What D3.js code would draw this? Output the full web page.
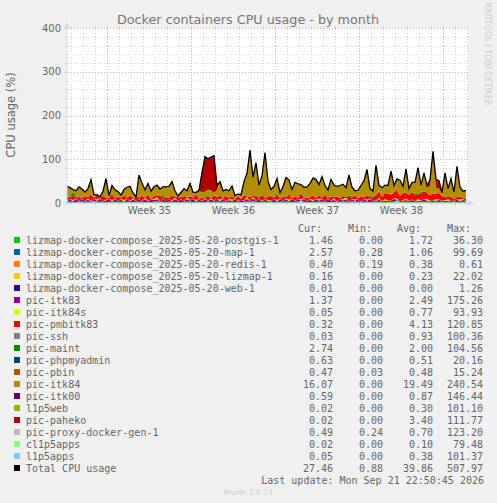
<!DOCTYPE html>
<html>
<head>
<meta charset="utf-8">
<script src="https://cdn.jsdelivr.net/npm/d3@7"></script>
<style>
  html, body { margin: 0; padding: 0; background: #f0f0f0; }
  svg { display: block; }
</style>
</head>
<body>
<div id="container"></div>
<script>
/* DATA, one value per 6 hours */
const startTime = new Date(Date.UTC(2026, 7, 20, 16))
const endTime = new Date(Date.UTC(2026, 8, 23, 2))
const sampleCount = 134

const postgis = [2,1,2,1,1,2,3,2,1,1,2,1,2,1,1,2,2,1,3,1,2,1,1,2,1,2,2,1,1,3,2,1,2,1,
  1,2,1,1,2,2,1,3,1,1,2,1,2,1,1,2,3,1,1,2,1,2,1,2,1,1,2,2,1,3,1,2,1,1,
  2,1,1,2,1,3,2,1,1,2,2,1,1,2,1,1,3,2,1,1,2,1,1,2,3,1,1,2,1,2,1,1,2,1,
  1,2,2,1,1,3,2,1,2,1,1,2,3,1,1,2,1,2,1,1,2,3,1,2,1,1,2,1,2,1,3,2]
const map = [1,2,1,1,2,1,0,1,2,1,1,2,1,1,2,1,1,2,0,1,1,2,1,1,2,1,0,2,1,1,1,2,1,1,
  2,1,1,2,0,1,2,1,1,2,1,1,0,2,1,1,2,1,2,1,0,1,1,2,1,2,1,1,2,0,1,1,2,1,
  1,1,2,1,2,0,1,1,2,1,1,2,1,0,2,1,1,1,2,1,1,2,0,1,1,2,1,1,2,1,0,2,1,1,
  2,1,1,2,1,0,1,2,1,1,2,1,0,1,2,1,2,1,1,2,0,1,1,2,1,2,1,1,0,1,2,1]
const itk83 = [1,6,1,7,2,6,2,5,1,6,2,7,1,4,7,1,6,2,5,1,7,1,6,2,6,1,7,1,6,3,5,1,6,2,
  6,1,7,2,6,1,6,2,7,1,6,2,7,1,6,2,5,2,7,1,6,2,6,1,5,2,6,1,7,2,6,1,6,2,
  1,7,1,6,2,6,1,7,2,6,1,7,2,6,1,7,2,6,1,7,2,5,1,7,2,6,1,5,2,7,1,6,2,7,
  3,2,5,1,4,2,3,6,2,1,3,4,2,5,1,3,2,6,3,1,4,2,5,1,3,2,4,1,6,2,3,1]
const itk84s = [1,0,3,1,0,1,0,3,1,0,4,1,0,2,0,3,1,0,1,4,0,1,3,0,1,0,3,1,0,2,4,0,1,0,
  0,2,3,0,1,0,4,1,0,3,0,1,2,0,3,1,0,4,1,0,2,3,0,1,0,1,4,0,3,1,0,2,0,3,
  1,0,3,1,0,2,4,0,1,0,3,1,0,2,3,0,4,1,0,1,0,3,1,0,2,4,0,1,3,0,1,0,3,1,
  0,1,4,0,3,1,0,2,3,0,1,4,0,1,0,3,1,0,4,1,0,3,1,0,2,3,0,1,0,4,1,0]
const pmbitk83 = [10,3,12,2,8,1,11,3,14,2,9,1,12,4,2,13,1,9,3,11,2,12,1,8,3,10,1,13,2,7,3,12,1,9,
  3,11,1,9,2,12,1,8,3,13,1,7,2,10,1,11,3,9,1,12,2,8,1,10,3,12,1,9,2,11,1,13,2,8,
  11,2,13,1,9,3,12,1,10,2,14,1,8,3,11,1,9,2,13,1,10,3,12,1,8,2,11,3,9,1,12,2,10,1,
  8,12,15,10,14,16,12,15,18,13,16,12,14,17,13,11,15,18,14,12,16,13,15,11,7,5,8,4,6,7,3,6]
const itk84 = [23,21,5,13,23,21,7,19,31,7,1,1,11,41,5,17,19,10,4,13,23,21,9,1,49,28,17,23,17,21,25,16,21,24,
  23,32,13,2,10,17,13,27,13,2,17,13,13,13,17,6,17,32,13,15,17,21,8,1,7,31,53,108,43,75,28,43,101,35,
  13,25,33,11,23,41,33,21,27,33,19,21,25,31,39,41,21,48,19,19,36,27,21,29,27,17,47,23,11,15,23,38,59,17,
  13,68,11,21,16,18,52,14,26,36,12,54,14,20,26,58,16,42,12,22,84,12,10,2,55,17,41,13,70,19,15,19]

// thin series: [sample index, value] pairs, everything else is zero
const redisPts = [[4,1],[30,1],[62,1],[95,1],[120,1]]
const lizmapPts = [[9,2],[47,1],[78,2],[110,3]]
const webPts = [[60,1]]
const sshPts = [[6,2],[22,2],[41,3],[58,2],[73,3],[90,2],[104,3],[125,2]]
const maintPts = [[1,2],[2,7],[3,3],[15,3],[27,4],[32,5],[38,3],[47,3],[64,4],[70,3],[79,3],[86,4],[94,3],[101,5],[116,4],[118,4]]
const phpmyadminPts = [[11,1],[36,2],[69,2],[99,2],[113,1]]
const pbinPts = [[8,3],[17,2],[25,3],[43,2],[52,3],[68,2],[83,3],[98,2],[108,3],[127,3]]
const itk00Pts = [[18,2],[44,2],[71,2],[93,3],[122,2]]
const l1p5webPts = [[13,3],[34,3],[66,3],[88,3],[112,3],[131,2]]
const pahekoPts = [[45,45],[46,80],[47,70],[48,76],[49,85],[50,10],[120,4],[121,14],[122,10],[123,20],[124,18],[125,4]]
const proxyPts = [[24,2],[57,3],[76,4],[97,3],[117,3],[129,4]]
const cl1p5appsPts = [[40,1],[81,1],[106,2]]
const l1p5appsPts = [[20,1],[55,2],[84,2],[115,2]]

const names = ["lizmap-docker-compose_2025-05-20-postgis-1", "lizmap-docker-compose_2025-05-20-map-1",
  "lizmap-docker-compose_2025-05-20-redis-1", "lizmap-docker-compose_2025-05-20-lizmap-1",
  "lizmap-docker-compose_2025-05-20-web-1", "pic-itk83", "pic-itk84s", "pic-pmbitk83", "pic-ssh", "pic-maint",
  "pic-phpmyadmin", "pic-pbin", "pic-itk84", "pic-itk00", "l1p5web", "pic-paheko", "pic-proxy-docker-gen-1",
  "cl1p5apps", "l1p5apps", "Total CPU usage"]
const colors = ["#00CC00", "#0066B3", "#FF8000", "#FFCC00", "#330099", "#990099", "#CCFF00", "#FF0000", "#808080",
  "#008F00", "#00487D", "#B35A00", "#B38F00", "#6B006B", "#8FB300", "#B30000", "#BEBEBE", "#80FF80", "#80C9FF", "#000000"]
const cur = ["1.46","2.57","0.40","0.16","0.01","1.37","0.05","0.32","0.03","2.74","0.63","0.47","16.07","0.59","0.02","0.02","0.49","0.02","0.05","27.46"]
const min = ["0.00","0.28","0.19","0.00","0.00","0.00","0.00","0.00","0.00","0.00","0.00","0.03","0.00","0.00","0.00","0.00","0.24","0.00","0.00","0.88"]
const avg = ["1.72","1.06","0.38","0.23","0.00","2.49","0.77","4.13","0.93","2.00","0.51","0.48","19.49","0.87","0.30","3.40","0.70","0.10","0.38","39.86"]
const max = ["36.30","99.69","0.61","22.02","1.26","175.26","93.93","120.85","100.36","104.56","20.16","15.24","240.54","146.44","101.10","111.77","123.20","79.48","101.37","507.97"]
const weekLabels = ["Week 35", "Week 36", "Week 37", "Week 38"]
const yTicks = [0, 100, 200, 300, 400]

/* CONSTANTS AND GLOBALS */
const width = 497,
      height = 503,
      margin = {top : 28, bottom : 300, left : 67, right : 29};
const plotW = width - margin.left - margin.right,
      plotH = height - margin.top - margin.bottom;
const textColor = "#666",
      mono = "'DejaVu Sans Mono', monospace",
      sans = "'DejaVu Sans', sans-serif";

const sparse = pts => {
  const out = new Array(sampleCount).fill(0)
  pts.forEach(p => { out[p[0]] = p[1] })
  return out
}

const seriesValues = [postgis, map, sparse(redisPts), sparse(lizmapPts), sparse(webPts), itk83, itk84s, pmbitk83,
  sparse(sshPts), sparse(maintPts), sparse(phpmyadminPts), sparse(pbinPts), itk84, sparse(itk00Pts),
  sparse(l1p5webPts), sparse(pahekoPts), sparse(proxyPts), sparse(cl1p5appsPts), sparse(l1p5appsPts)]

const rows = d3.range(sampleCount).map(i => {
  const row = {time: d3.utcHour.offset(startTime, i * 6)}
  seriesValues.forEach((s, k) => { row[k] = s[i] })
  return row
})

/* SCALES */
const xScale = d3.scaleUtc()
                 .domain([startTime, endTime])
                 .range([margin.left, width - margin.right])

const yScale = d3.scaleLinear()
                 .domain([0, 400])
                 .range([margin.top + plotH, margin.top])

const stacked = d3.stack().keys(d3.range(seriesValues.length))(rows)

/* HTML ELEMENTS */
const svg = d3.select("#container")
              .append("svg")
              .attr("width", width)
              .attr("height", height)

svg.append("rect")
   .attr("x", margin.left)
   .attr("y", margin.top)
   .attr("width", plotW)
   .attr("height", plotH)
   .attr("fill", "#fff")

//grid, built from axes
const days = d3.utcDay.range(startTime, endTime)
const mondays = d3.utcMonday.range(startTime, endTime)

const grid = (axis, y, cls) => svg.append("g")
   .attr("transform", y)
   .call(axis)
   .call(g => g.select(".domain").remove())
   .call(g => g.selectAll("text").remove())
   .call(g => g.selectAll("line")
               .attr("stroke", cls)
               .attr("stroke-dasharray", "1,2")
               .attr("shape-rendering", "crispEdges"))

grid(d3.axisBottom(xScale).tickValues(days.filter(d => d.getUTCDay() != 1)).tickSize(-(plotH + 4)),
     `translate(0, ${margin.top + plotH + 2})`, "#d0d0d0")
grid(d3.axisLeft(yScale).tickValues(d3.range(0, 401, 20).filter(d => d % 100)).tickSize(-(plotW + 4)),
     `translate(${margin.left - 2}, 0)`, "#d0d0d0")
grid(d3.axisBottom(xScale).tickValues(mondays).tickSize(-(plotH + 4)),
     `translate(0, ${margin.top + plotH + 2})`, "#e8a4a4")
grid(d3.axisLeft(yScale).tickValues(yTicks).tickSize(-(plotW + 4)),
     `translate(${margin.left - 2}, 0)`, "#e8a4a4")

//stacked areas
const area = d3.area()
               .x(d => xScale(d.data.time))
               .y0(d => yScale(d[0]))
               .y1(d => yScale(d[1]))

svg.selectAll("path.layer")
   .data(stacked)
   .join("path")
   .attr("class", "layer")
   .attr("fill", (d, i) => colors[i])
   .attr("d", area)

//total is the top of the stack
const topLayer = stacked[stacked.length - 1]
const totalLine = d3.line()
                    .x(d => xScale(d.data.time))
                    .y(d => yScale(d[1]))

svg.append("path")
   .datum(topLayer)
   .attr("fill", "none")
   .attr("stroke", "#000")
   .attr("stroke-width", 1.3)
   .attr("d", totalLine)

//axis lines with the little arrows
const axisColor = "#d4dcf8"
svg.append("path")
   .attr("d", `M${margin.left},${yScale(0) + 2}V${margin.top - 2}M${margin.left - 2},${yScale(0)}H${width - margin.right + 1}`)
   .attr("stroke", axisColor)
   .attr("fill", "none")
svg.append("path")
   .attr("d", `M${margin.left - 3},${margin.top}L${margin.left},${margin.top - 6}L${margin.left + 3},${margin.top}Z`)
   .attr("fill", axisColor)
svg.append("path")
   .attr("d", `M${width - margin.right},${yScale(0) - 3}L${width - margin.right + 6},${yScale(0)}L${width - margin.right},${yScale(0) + 3}Z`)
   .attr("fill", axisColor)

//tick labels
const xAxis = d3.axisBottom(xScale)
                .tickValues(mondays.map(d => d3.utcHour.offset(d, 84)))
                .tickFormat((d, i) => weekLabels[i])
                .tickSize(0)
                .tickPadding(4)
const yAxis = d3.axisLeft(yScale)
                .tickValues(yTicks)
                .tickSize(0)
                .tickPadding(6)

svg.append("g")
   .attr("transform", `translate(0, ${margin.top + plotH})`)
   .call(xAxis)
   .call(g => g.select(".domain").remove())
   .call(g => g.selectAll("text").attr("fill", textColor).attr("font-family", sans).attr("font-size", 10))

svg.append("g")
   .attr("transform", `translate(${margin.left}, 0)`)
   .call(yAxis)
   .call(g => g.select(".domain").remove())
   .call(g => g.selectAll("text").attr("fill", textColor).attr("font-family", sans).attr("font-size", 10))

//titles
svg.append("text")
   .attr("x", 248)
   .attr("y", 24)
   .attr("text-anchor", "middle")
   .attr("font-family", sans)
   .attr("font-size", 12.75)
   .attr("fill", "#777")
   .text("Docker containers CPU usage - by month")

svg.append("text")
   .attr("transform", "translate(15, 115) rotate(-90)")
   .attr("text-anchor", "middle")
   .attr("font-family", sans)
   .attr("font-size", 11.5)
   .attr("fill", textColor)
   .text("CPU usage (%)")

svg.append("text")
   .attr("transform", "translate(485, 54) rotate(90)")
   .attr("text-anchor", "middle")
   .attr("font-family", sans)
   .attr("font-size", 8)
   .attr("fill", "#ccc")
   .text("RRDTOOL / TOBI OETIKER")

//legend
const columns = [[cur, 333, "Cur:", 298], [min, 383, "Min:", 348], [avg, 433, "Avg:", 397], [max, 483, "Max:", 447]]

const legend = svg.append("g")
                  .attr("font-family", mono)
                  .attr("font-size", 10)
                  .attr("fill", textColor)

legend.selectAll("rect")
      .data(names)
      .join("rect")
      .attr("x", 14)
      .attr("y", (d, i) => 237 + i * 12)
      .attr("width", 6)
      .attr("height", 6)
      .attr("fill", (d, i) => colors[i])

legend.selectAll("text.name")
      .data(names)
      .join("text")
      .attr("class", "name")
      .attr("x", 26)
      .attr("y", (d, i) => 243.5 + i * 12)
      .text(d => d)

columns.forEach(c => {
  legend.append("text")
        .attr("x", c[3])
        .attr("y", 231.5)
        .text(c[2])
  legend.selectAll(null)
        .data(c[0])
        .join("text")
        .attr("x", c[1])
        .attr("y", (d, i) => 243.5 + i * 12)
        .attr("text-anchor", "end")
        .text(d => d)
})

legend.append("text")
      .attr("x", 484)
      .attr("y", 483.5)
      .attr("text-anchor", "end")
      .text("Last update: Mon Sep 21 22:50:45 2026")

svg.append("text")
   .attr("x", 248)
   .attr("y", 495)
   .attr("text-anchor", "middle")
   .attr("font-family", sans)
   .attr("font-size", 7.5)
   .attr("fill", "#ccc")
   .text("Munin 2.0.73")
</script>
</body>
</html>
